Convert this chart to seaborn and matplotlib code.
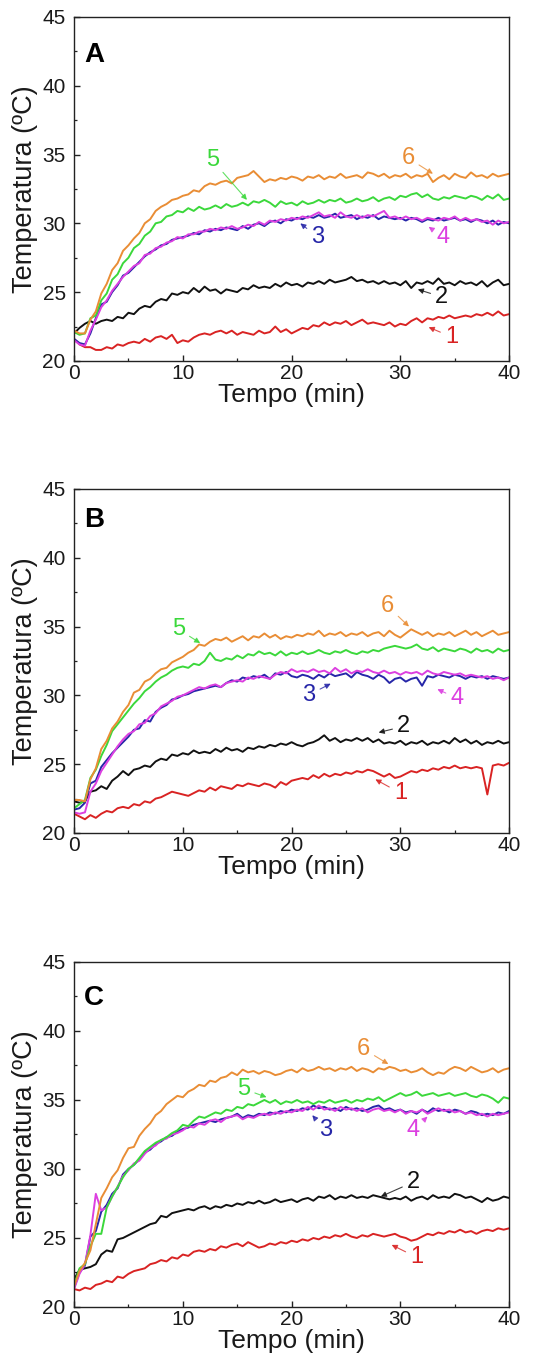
import matplotlib
matplotlib.use("Agg")
import matplotlib.pyplot as plt
import seaborn as sns
import pandas as pd

# ---------------- data ----------------
TIME = [0, 0.5, 1, 1.5, 2, 2.5, 3, 3.5, 4, 4.5, 5, 5.5, 6, 6.5, 7, 7.5, 8, 8.5, 9, 9.5,
        10, 10.5, 11, 11.5, 12, 12.5, 13, 13.5, 14, 14.5, 15, 15.5, 16, 16.5, 17, 17.5, 18, 18.5, 19, 19.5,
        20, 20.5, 21, 21.5, 22, 22.5, 23, 23.5, 24, 24.5, 25, 25.5, 26, 26.5, 27, 27.5, 28, 28.5, 29, 29.5,
        30, 30.5, 31, 31.5, 32, 32.5, 33, 33.5, 34, 34.5, 35, 35.5, 36, 36.5, 37, 37.5, 38, 38.5, 39, 39.5, 40]

SERIES = ["1", "2", "3", "4", "5", "6"]
PANELS = ["A", "B", "C"]
X_TICKS = [0, 10, 20, 30, 40]
Y_TICKS = [20, 25, 30, 35, 40, 45]

# Panel A
A1 = [21.6, 21.2, 21.0, 21.0, 20.8, 20.8, 21.0, 20.9, 21.2, 21.1, 21.3, 21.4, 21.3, 21.6, 21.4, 21.7, 21.8, 21.6, 21.9, 21.3,
      21.5, 21.4, 21.7, 21.9, 22.0, 21.9, 22.1, 22.2, 22.0, 22.2, 21.9, 22.1, 22.0, 21.9, 22.2, 22.0, 22.1, 22.5, 22.1, 22.3,
      22.0, 22.2, 22.4, 22.3, 22.6, 22.5, 22.8, 22.6, 22.8, 22.7, 22.9, 22.6, 22.8, 23.0, 22.7, 22.8, 22.7, 22.6, 22.8, 22.5,
      22.7, 22.6, 22.9, 23.1, 22.8, 23.1, 23.0, 23.2, 23.1, 23.3, 23.1, 23.2, 23.3, 23.2, 23.4, 23.3, 23.5, 23.3, 23.6, 23.3, 23.4]
A2 = [22.0, 22.4, 22.7, 22.9, 22.7, 22.9, 23.0, 22.9, 23.2, 23.1, 23.5, 23.4, 23.8, 24.0, 23.9, 24.3, 24.5, 24.4, 24.9, 24.8,
      25.0, 24.9, 25.3, 25.0, 25.4, 25.1, 25.2, 24.9, 25.2, 25.1, 25.0, 25.3, 25.2, 25.5, 25.3, 25.4, 25.3, 25.6, 25.4, 25.7,
      25.5, 25.6, 25.4, 25.7, 25.6, 25.8, 25.6, 25.9, 25.7, 25.8, 25.9, 26.1, 25.8, 25.9, 25.7, 25.8, 25.6, 25.8, 25.6, 25.7,
      25.5, 25.8, 25.3, 25.7, 25.6, 25.8, 25.6, 26.0, 25.6, 25.7, 25.5, 25.8, 25.6, 25.7, 25.5, 25.8, 25.4, 25.7, 25.9, 25.5, 25.6]
A3 = [21.6, 21.3, 21.2, 22.0, 23.1, 24.1, 24.3, 25.0, 25.5, 26.2, 26.4, 26.8, 27.2, 27.6, 27.9, 28.1, 28.4, 28.5, 28.8, 28.9,
      29.0, 29.1, 29.3, 29.2, 29.5, 29.4, 29.6, 29.5, 29.7, 29.6, 29.5, 29.8, 29.6, 29.9, 30.0, 29.8, 30.1, 30.2, 30.0, 30.3,
      30.2, 30.4, 30.3, 30.5, 30.4, 30.6, 30.4, 30.5, 30.7, 30.4, 30.5, 30.6, 30.3, 30.5, 30.4, 30.6, 30.3, 30.5, 30.4, 30.3,
      30.4, 30.2, 30.4, 30.3, 30.1, 30.3, 30.2, 30.4, 30.2, 30.3, 30.4, 30.2, 30.3, 30.1, 30.3, 30.2, 30.0, 30.2, 29.9, 30.1, 30.0]
A4 = [21.5, 21.2, 21.1, 22.2, 23.0, 23.9, 24.4, 25.1, 25.6, 26.1, 26.5, 26.9, 27.1, 27.7, 27.8, 28.2, 28.3, 28.6, 28.7, 29.0,
      28.9, 29.2, 29.2, 29.4, 29.4, 29.6, 29.5, 29.7, 29.6, 29.8, 29.6, 29.7, 29.9, 29.8, 30.1, 29.9, 30.2, 30.1, 30.3, 30.2,
      30.4, 30.3, 30.5, 30.4, 30.6, 30.8, 30.5, 30.6, 30.4, 30.8, 30.5, 30.4, 30.6, 30.4, 30.6, 30.5, 30.7, 30.9, 30.4, 30.5,
      30.3, 30.5, 30.3, 30.4, 30.2, 30.4, 30.3, 30.2, 30.4, 30.3, 30.5, 30.2, 30.4, 30.2, 30.3, 30.1, 30.2, 29.9, 30.2, 30.0, 30.1]
A5 = [22.1, 21.9, 22.0, 23.1, 23.3, 24.4, 24.9, 25.9, 26.3, 27.1, 27.5, 28.2, 28.5, 29.1, 29.4, 30.0, 30.1, 30.5, 30.6, 30.9,
      30.8, 31.1, 30.9, 31.2, 31.0, 31.1, 31.3, 31.1, 31.4, 31.2, 31.3, 31.5, 31.3, 31.6, 31.5, 31.7, 31.5, 31.2, 31.6, 31.4,
      31.5, 31.3, 31.6, 31.4, 31.5, 31.7, 31.5, 31.7, 31.6, 31.8, 31.5, 31.6, 31.8, 31.6, 31.7, 31.9, 31.6, 31.8, 31.9, 31.7,
      32.0, 31.9, 32.1, 32.2, 31.9, 32.1, 31.8, 31.7, 31.9, 31.8, 32.0, 31.9, 31.8, 32.0, 31.9, 31.7, 32.0, 31.8, 32.1, 31.7, 31.8]
A6 = [22.2, 22.0, 22.0, 23.0, 23.6, 24.9, 25.6, 26.6, 27.1, 28.0, 28.4, 28.9, 29.3, 30.0, 30.3, 30.9, 31.2, 31.4, 31.7, 31.8,
      32.0, 32.1, 32.4, 32.3, 32.7, 32.9, 32.8, 33.0, 33.1, 32.9, 33.3, 33.4, 33.5, 33.8, 33.4, 33.0, 33.2, 33.1, 33.3, 33.2,
      33.4, 33.3, 33.1, 33.4, 33.3, 33.5, 33.2, 33.4, 33.3, 33.6, 33.3, 33.4, 33.5, 33.3, 33.7, 33.6, 33.4, 33.6, 33.3, 33.5,
      33.4, 33.6, 33.3, 33.5, 33.4, 33.6, 33.0, 33.3, 33.5, 33.2, 33.6, 33.4, 33.3, 33.7, 33.4, 33.5, 33.3, 33.6, 33.4, 33.5, 33.6]

# Panel B
B1 = [21.4, 21.2, 21.0, 21.3, 21.1, 21.4, 21.6, 21.5, 21.8, 21.9, 21.8, 22.1, 22.0, 22.3, 22.2, 22.5, 22.6, 22.8, 23.0, 22.9,
      22.8, 22.7, 22.9, 23.1, 23.0, 23.3, 23.1, 23.4, 23.3, 23.2, 23.5, 23.4, 23.6, 23.5, 23.4, 23.6, 23.5, 23.3, 23.7, 23.5,
      23.8, 23.9, 24.0, 23.9, 24.2, 24.0, 24.3, 24.1, 24.3, 24.2, 24.4, 24.3, 24.5, 24.4, 24.6, 24.5, 24.3, 24.1, 24.3, 24.0,
      24.1, 24.3, 24.5, 24.4, 24.6, 24.5, 24.7, 24.6, 24.8, 24.7, 24.9, 24.7, 24.8, 24.7, 24.8, 24.7, 22.8, 24.9, 25.0, 24.9, 25.1]
B2 = [22.3, 22.2, 22.3, 23.0, 23.1, 23.4, 23.2, 23.8, 24.1, 24.5, 24.2, 24.6, 24.7, 24.9, 24.8, 25.2, 25.4, 25.3, 25.7, 25.6,
      25.8, 25.7, 26.0, 25.8, 25.9, 25.8, 26.1, 25.9, 26.2, 26.0, 26.1, 25.9, 26.2, 26.1, 26.3, 26.2, 26.4, 26.3, 26.5, 26.4,
      26.6, 26.4, 26.3, 26.5, 26.6, 26.8, 27.1, 26.7, 26.9, 26.6, 26.8, 26.7, 26.9, 26.7, 26.9, 26.6, 26.8, 26.5, 26.6, 26.5,
      26.7, 26.4, 26.6, 26.5, 26.7, 26.4, 26.6, 26.5, 26.7, 26.5, 26.9, 26.6, 26.8, 26.5, 26.7, 26.4, 26.6, 26.5, 26.7, 26.5, 26.6]
B3 = [21.7, 21.8, 22.2, 23.6, 23.8, 24.8, 25.3, 25.8, 26.2, 26.6, 27.0, 27.5, 27.6, 28.2, 28.1, 28.8, 29.1, 29.3, 29.7, 29.8,
      30.0, 30.1, 30.3, 30.4, 30.5, 30.6, 30.7, 30.6, 30.9, 31.1, 31.0, 31.3, 31.2, 31.4, 31.3, 31.5, 31.2, 31.6, 31.5, 31.7,
      31.4, 31.3, 31.5, 31.4, 31.2, 31.5, 31.3, 31.6, 31.4, 31.5, 31.6, 31.3, 31.7, 31.5, 31.4, 31.2, 31.5, 31.3, 30.9, 31.2,
      31.3, 31.0, 31.2, 31.3, 30.7, 31.4, 31.3, 31.5, 31.4, 31.3, 31.5, 31.4, 31.2, 31.4, 31.3, 31.4, 31.2, 31.4, 31.3, 31.2, 31.3]
B4 = [21.5, 21.4, 21.5, 23.0, 23.6, 24.5, 25.1, 25.7, 26.3, 26.8, 27.2, 27.4, 27.9, 28.0, 28.5, 28.7, 29.2, 29.4, 29.6, 29.9,
      30.0, 30.2, 30.4, 30.6, 30.5, 30.7, 30.8, 30.6, 30.9, 31.0, 31.1, 31.0, 31.3, 31.2, 31.4, 31.3, 31.2, 31.5, 31.7, 31.6,
      31.9, 31.7, 31.8, 31.7, 31.9, 31.7, 31.8, 31.6, 32.0, 31.7, 31.9, 31.6, 31.8, 31.7, 31.9, 31.7, 31.6, 31.8, 31.6, 31.7,
      31.5, 31.7, 31.6, 31.7, 31.5, 31.8, 31.6, 31.5, 31.7, 31.6, 31.5, 31.6, 31.4, 31.5, 31.4, 31.3, 31.4, 31.2, 31.3, 31.1, 31.3]
B5 = [21.8, 22.1, 22.4, 24.0, 24.6, 25.6, 26.4, 27.4, 27.9, 28.4, 28.9, 29.4, 29.8, 30.3, 30.6, 31.0, 31.3, 31.5, 31.8, 32.0,
      32.1, 32.0, 32.3, 32.2, 32.5, 33.1, 32.6, 32.5, 32.7, 32.6, 32.9, 32.7, 33.0, 32.9, 33.2, 33.0, 33.1, 32.9, 33.2, 32.9,
      33.1, 33.0, 33.2, 33.0, 33.1, 33.3, 33.1, 33.0, 33.2, 33.1, 33.3, 33.1, 33.0, 33.2, 33.1, 33.3, 33.2, 33.4, 33.5, 33.6,
      33.5, 33.4, 33.5, 33.7, 33.4, 33.3, 33.5, 33.2, 33.4, 33.3, 33.2, 33.4, 33.3, 33.1, 33.4, 33.2, 33.3, 33.1, 33.4, 33.2, 33.3]
B6 = [22.4, 22.4, 22.3, 23.9, 24.7, 26.1, 26.7, 27.6, 28.1, 28.8, 29.3, 30.2, 30.4, 31.0, 31.2, 31.6, 31.9, 32.0, 32.4, 32.6,
      32.8, 33.1, 33.3, 33.7, 33.6, 33.9, 34.1, 34.0, 34.2, 33.9, 34.1, 34.3, 34.0, 34.3, 34.2, 34.5, 34.2, 34.4, 34.1, 34.3,
      34.2, 34.4, 34.3, 34.5, 34.4, 34.7, 34.3, 34.5, 34.4, 34.6, 34.3, 34.5, 34.4, 34.6, 34.3, 34.5, 34.6, 34.3, 34.7, 34.4,
      34.2, 34.5, 34.8, 34.6, 34.4, 34.6, 34.3, 34.5, 34.4, 34.6, 34.3, 34.5, 34.7, 34.4, 34.6, 34.3, 34.5, 34.7, 34.4, 34.5, 34.6]

# Panel C
C1 = [21.3, 21.2, 21.4, 21.3, 21.6, 21.7, 21.9, 21.8, 22.2, 22.1, 22.4, 22.6, 22.7, 22.8, 23.1, 23.2, 23.4, 23.3, 23.6, 23.5,
      23.8, 23.7, 24.0, 24.1, 24.0, 24.2, 24.1, 24.4, 24.3, 24.5, 24.6, 24.4, 24.7, 24.5, 24.3, 24.4, 24.6, 24.5, 24.7, 24.6,
      24.8, 24.7, 24.9, 24.8, 25.0, 24.9, 25.1, 25.0, 25.2, 25.1, 25.3, 25.1, 25.0, 25.2, 25.1, 25.3, 25.2, 25.1, 25.2, 25.3,
      25.1, 25.0, 24.8, 24.9, 25.1, 25.3, 25.2, 25.4, 25.3, 25.5, 25.4, 25.6, 25.4, 25.5, 25.3, 25.5, 25.6, 25.5, 25.7, 25.6, 25.7]
C2 = [22.0, 22.7, 22.8, 22.9, 23.1, 23.8, 24.1, 24.0, 24.9, 25.0, 25.2, 25.4, 25.6, 25.8, 26.0, 26.1, 26.6, 26.5, 26.8, 26.9,
      27.0, 27.1, 27.0, 27.2, 27.3, 27.1, 27.3, 27.2, 27.4, 27.3, 27.5, 27.4, 27.6, 27.5, 27.7, 27.5, 27.6, 27.8, 27.6, 27.7,
      27.8, 27.6, 27.8, 27.9, 27.7, 28.0, 27.9, 28.1, 27.8, 28.0, 27.9, 28.1, 27.9, 28.0, 27.9, 28.1, 28.0, 27.9, 27.8, 27.9,
      27.8, 28.0, 27.7, 27.9, 28.0, 27.8, 28.1, 27.9, 28.0, 27.9, 28.2, 28.1, 27.9, 28.0, 27.8, 27.6, 27.9, 27.7, 27.8, 28.0, 27.9]
C3 = [21.4, 22.5, 23.0, 25.1, 25.5, 26.9, 27.4, 28.2, 28.6, 29.6, 30.0, 30.3, 30.7, 31.2, 31.4, 31.8, 32.0, 32.3, 32.4, 32.7,
      32.9, 33.0, 33.2, 33.3, 33.4, 33.5, 33.4, 33.6, 33.7, 33.8, 34.0, 33.7, 33.9, 33.8, 34.0, 33.9, 34.1, 34.0, 34.2, 34.1,
      34.3, 34.2, 34.4, 34.3, 34.6, 34.4, 34.5, 34.3, 34.4, 34.2, 34.5, 34.3, 34.4, 34.2, 34.3, 34.5, 34.6, 34.3, 34.4, 34.2,
      34.3, 34.1, 34.2, 34.0, 34.3, 34.1, 34.4, 34.2, 34.3, 34.1, 34.3, 34.2, 34.0, 34.2, 34.1, 33.9, 34.0, 33.9, 34.1, 34.0, 34.2]
C4 = [21.3, 22.4, 23.1, 25.2, 28.2, 27.0, 27.2, 28.0, 28.7, 29.5, 29.9, 30.4, 30.6, 31.1, 31.5, 31.7, 32.1, 32.2, 32.5, 32.6,
      32.8, 33.1, 33.0, 33.3, 33.2, 33.5, 33.6, 33.4, 33.7, 33.8, 33.9, 33.6, 33.8, 33.7, 33.9, 34.0, 33.9, 34.1, 34.0, 34.2,
      34.1, 34.3, 34.2, 34.5, 34.3, 34.6, 34.3, 34.4, 34.2, 34.5, 34.3, 34.4, 34.2, 34.4, 34.1, 34.3, 34.4, 34.2, 34.3, 34.1,
      34.3, 34.0, 34.2, 34.1, 34.3, 34.0, 34.2, 34.4, 34.2, 34.3, 34.1, 34.2, 34.0, 34.1, 33.9, 34.0, 33.8, 34.0, 33.9, 34.0, 34.1]
C5 = [21.6, 22.8, 23.1, 24.4, 25.3, 25.3, 27.2, 28.0, 28.7, 29.4, 30.0, 30.3, 30.8, 31.3, 31.6, 31.9, 32.1, 32.3, 32.6, 32.8,
      33.2, 33.1, 33.5, 33.8, 33.7, 33.9, 34.1, 34.0, 34.3, 34.2, 34.5, 34.4, 34.7, 34.6, 34.8, 35.0, 34.8, 35.0, 34.7, 34.9,
      34.8, 35.0, 34.8, 34.9, 34.7, 34.9, 34.8, 35.0, 34.8, 34.9, 35.0, 34.8, 35.0, 34.9, 35.1, 35.0, 35.2, 34.9, 35.1, 35.3,
      35.5, 35.3, 35.4, 35.6, 35.3, 35.4, 35.5, 35.3, 35.4, 35.5, 35.3, 35.4, 35.5, 35.3, 35.2, 35.4, 35.3, 35.1, 34.8, 35.2, 35.1]
C6 = [21.5, 22.6, 23.2, 24.1, 26.0, 27.9, 28.6, 29.4, 29.9, 30.8, 31.5, 31.6, 32.4, 32.9, 33.3, 33.9, 34.2, 34.7, 35.0, 35.3,
      35.2, 35.6, 35.8, 36.1, 36.0, 36.4, 36.3, 36.6, 36.7, 37.0, 36.8, 37.2, 37.0, 37.1, 36.9, 37.1, 37.0, 36.8, 36.9, 37.1,
      37.2, 37.0, 37.3, 37.1, 37.2, 37.4, 37.2, 37.3, 37.1, 37.3, 37.2, 37.4, 37.1, 37.3, 37.2, 37.0, 37.3, 37.2, 37.4, 37.3,
      37.1, 37.2, 37.0, 37.1, 37.3, 37.0, 36.8, 37.0, 36.9, 37.2, 37.4, 37.3, 37.1, 37.4, 37.2, 37.0, 37.1, 37.3, 37.0, 37.2, 37.3]

PANEL_DATA = {
    "A": [A1, A2, A3, A4, A5, A6],
    "B": [B1, B2, B3, B4, B5, B6],
    "C": [C1, C2, C3, C4, C5, C6],
}

# ---------------- style / layout ----------------
COLORS = {"1": "#d92323", "2": "#111111", "3": "#2626a8",
          "4": "#dc3fe0", "5": "#3bd83b", "6": "#e98d35"}

# annotation layout: series -> (text xy, arrow-head xy)
ANNOT = {
    "A": {"6": ((30.7, 34.75), (33.0, 33.6)), "5": ((12.7, 34.6), (15.9, 31.7)),
          "3": ((22.4, 29.0), (20.8, 30.0)), "4": ((33.9, 29.0), (32.6, 29.75)),
          "2": ((33.8, 24.65), (31.6, 25.2)), "1": ((34.7, 21.75), (32.6, 22.45))},
    "B": {"6": ((28.8, 36.5), (30.8, 35.0)), "5": ((9.6, 34.8), (11.6, 33.8)),
          "3": ((21.6, 30.05), (23.6, 30.85)), "4": ((35.2, 29.8), (33.4, 30.45)),
          "2": ((30.3, 27.75), (28.0, 27.3)), "1": ((30.0, 22.9), (27.7, 23.9))},
    "C": {"6": ((26.6, 38.7), (28.9, 37.6)), "5": ((15.6, 35.8), (17.7, 35.2)),
          "3": ((23.1, 32.8), (21.9, 33.9)), "4": ((31.2, 32.8), (32.5, 33.8)),
          "2": ((31.2, 29.05), (28.2, 28.0)), "1": ((31.5, 23.6), (29.2, 24.5))},
}
LETTER_Y = {"A": 42.2, "B": 42.75, "C": 42.4}
RECTS = {"A": [0.133, 0.735, 0.781, 0.2526],
         "B": [0.133, 0.3884, 0.781, 0.2526],
         "C": [0.133, 0.0404, 0.781, 0.2533]}

sns.set_theme(style="ticks")
plt.rcParams["font.family"] = ["Liberation Sans", "DejaVu Sans"]
plt.rcParams["axes.linewidth"] = 1.0

fig = plt.figure(figsize=(5.57, 13.62), dpi=100)

for p in PANELS:
    ax = fig.add_axes(RECTS[p])
    rows = []
    for name, vals in zip(SERIES, PANEL_DATA[p]):
        for t, v in zip(TIME, vals):
            rows.append({"t": t, "temp": v, "serie": name})
    df = pd.DataFrame(rows)
    sns.lineplot(data=df, x="t", y="temp", hue="serie", hue_order=SERIES,
                 palette=COLORS, linewidth=1.4, legend=False, ax=ax,
                 estimator=None, sort=False)
    ax.set_xlim(0, 40)
    ax.set_ylim(20, 45)
    ax.set_xticks(X_TICKS)
    ax.set_yticks(Y_TICKS)
    ax.set_xticks([5, 15, 25, 35], minor=True)
    ax.set_yticks([22.5, 27.5, 32.5, 37.5, 42.5], minor=True)
    ax.tick_params(axis="both", which="major", direction="in", length=4,
                   width=1.0, labelsize=15, color="#222222", labelcolor="#1a1a1a")
    ax.tick_params(axis="both", which="minor", direction="in", length=2.5,
                   width=0.9, color="#222222")
    ax.tick_params(axis="x", which="major", pad=2)
    ax.tick_params(axis="y", which="major", pad=6)
    for s in ax.spines.values():
        s.set_visible(True)
        s.set_linewidth(1.0)
        s.set_color("#222222")
    ax.set_xlabel("Tempo (min)", fontsize=19, labelpad=0, color="#1a1a1a")
    ax.set_ylabel("Temperatura (ºC)", fontsize=19.5, labelpad=3, color="#1a1a1a")
    ax.text(0.9, LETTER_Y[p], p, fontsize=20, fontweight="bold",
            ha="left", va="center", color="black")
    for name in SERIES:
        (tx, ty), (hx, hy) = ANNOT[p][name]
        c = COLORS[name]
        ax.annotate(name, xy=(hx, hy), xytext=(tx, ty), color=c, fontsize=17,
                    ha="center", va="center",
                    arrowprops=dict(arrowstyle="-|>", color=c, lw=0.8,
                                    mutation_scale=8, shrinkA=1, shrinkB=0,
                                    alpha=0.8))

fig.savefig("out.png", dpi=100)
